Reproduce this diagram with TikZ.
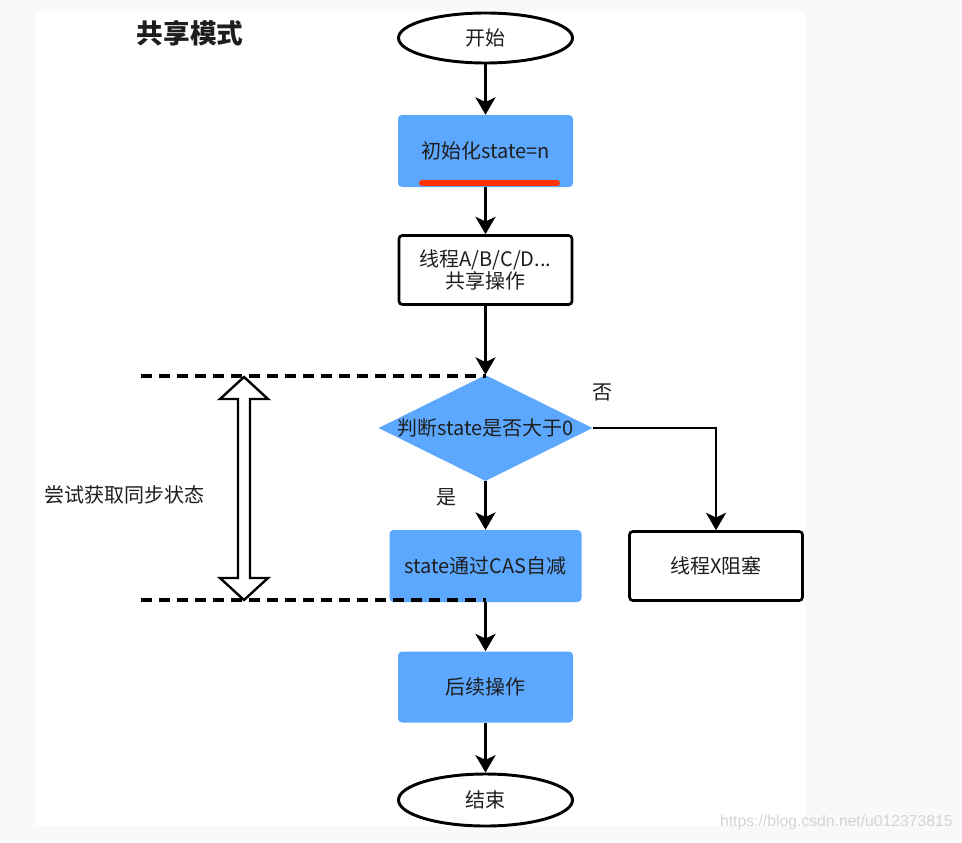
\documentclass[tikz,border=0pt]{standalone}
\usepackage{fontspec}
\setmainfont{Noto Sans CJK SC}
\newfontfamily\wmfont{Liberation Sans}
\usetikzlibrary{shapes.geometric,arrows.meta}
\definecolor{bfill}{HTML}{5CA8FF}
\definecolor{txt}{HTML}{1E1E1E}
\definecolor{redline}{HTML}{FF3300}
\definecolor{bggray}{HTML}{F9F9F9}
\definecolor{wmgray}{HTML}{D4D4D4}
\begin{document}
\begin{tikzpicture}[x=0.75pt,y=-0.75pt,
  every node/.style={text=txt},
  lbl/.style={font=\fontsize{15pt}{17pt}\selectfont, inner sep=0pt},
  blueb/.style={rectangle, rounded corners=3pt, fill=bfill, draw=none, minimum width=175*0.75pt, minimum height=72*0.75pt, inner sep=0pt, align=center, font=\fontsize{15pt}{17pt}\selectfont},
  whiteb/.style={rectangle, rounded corners=2.5pt, fill=white, draw=black, line width=2pt, minimum width=173*0.75pt, minimum height=69*0.75pt, inner sep=0pt, align=center, font=\fontsize{15pt}{17pt}\selectfont},
  term/.style={ellipse, fill=white, draw=black, line width=2.2pt, minimum width=174*0.75pt, minimum height=50*0.75pt, inner sep=0pt, font=\fontsize{15pt}{17pt}\selectfont},
  decision/.style={diamond, fill=bfill, draw=none, minimum width=214*0.75pt, minimum height=106*0.75pt, inner sep=0pt},
  flow/.style={line width=2.2pt, draw=black, -{Stealth[length=13pt,width=15pt,inset=3.5pt]}},
  dashline/.style={line width=2.4pt, draw=black, dash pattern=on 8pt off 5.5pt},
  hollow/.style={line width=1.8pt, draw=black, fill=white, line join=miter}
]
\useasboundingbox (0,0) rectangle (962,842);
\fill[bggray] (0,0) rectangle (962,842);
\fill[white] (36,11) rectangle (805,826);

\node[font=\fontsize{20pt}{22pt}\selectfont\bfseries, inner sep=0pt] (title) at (190,33) {共享模式};

\node[term] (start) at (485.5,38) {开始};
\node[blueb] (b1) at (485.5,151) {初始化state=n};
\node[whiteb] (b2) at (485.5,270) {线程A/B/C/D...\\共享操作};
\node[decision, label={center:{\fontsize{15pt}{17pt}\selectfont 判断state是否大于0}}] (d) at (485.5,428) {};
\node[blueb, minimum width=192*0.75pt] (cas) at (485.5,566) {state通过CAS自减};
\node[whiteb] (blk) at (716,566) {线程X阻塞};
\node[blueb, minimum height=71*0.75pt] (b3) at (485.5,687) {后续操作};
\node[term, minimum height=52*0.75pt] (end) at (485.5,800) {结束};

\node[lbl] (no) at (602,392) {否};
\node[lbl] (yes) at (446,497) {是};
\node[lbl] (side) at (124,495) {尝试获取同步状态};

% red underline
\draw[redline, line width=4.5pt, line cap=round] (422,183) -- (557,183);

% connectors
\draw[flow] (start) -- (b1);
\draw[flow] (b1) -- (b2);
\draw[flow] (b2) -- (d.north);
\draw[flow] (d.south) -- (cas);
\draw[flow] (d.east) -| (blk.north);
\draw[flow] (cas) -- (b3);
\draw[flow] (b3) -- (end);

% dashed guides
\coordinate (dl1) at (141,376);
\coordinate (dl2) at (141,600);
\draw[dashline] (dl1) -- (dl1 -| d.north);
\draw[dashline] (dl2) -- (dl2 -| d.north);

% hollow double arrow
\draw[hollow] (244,377) -- (268,399) -- (250,399) -- (250,578) -- (268,578) -- (244,600) -- (220,578) -- (238,578) -- (238,399) -- (220,399) -- cycle;

% watermark
\node[anchor=east, inner sep=0pt, font=\wmfont\fontsize{11.8pt}{13pt}\selectfont, text=wmgray] (wm) at (953,822) {https://blog.csdn.net/u012373815};
\end{tikzpicture}
\end{document}
